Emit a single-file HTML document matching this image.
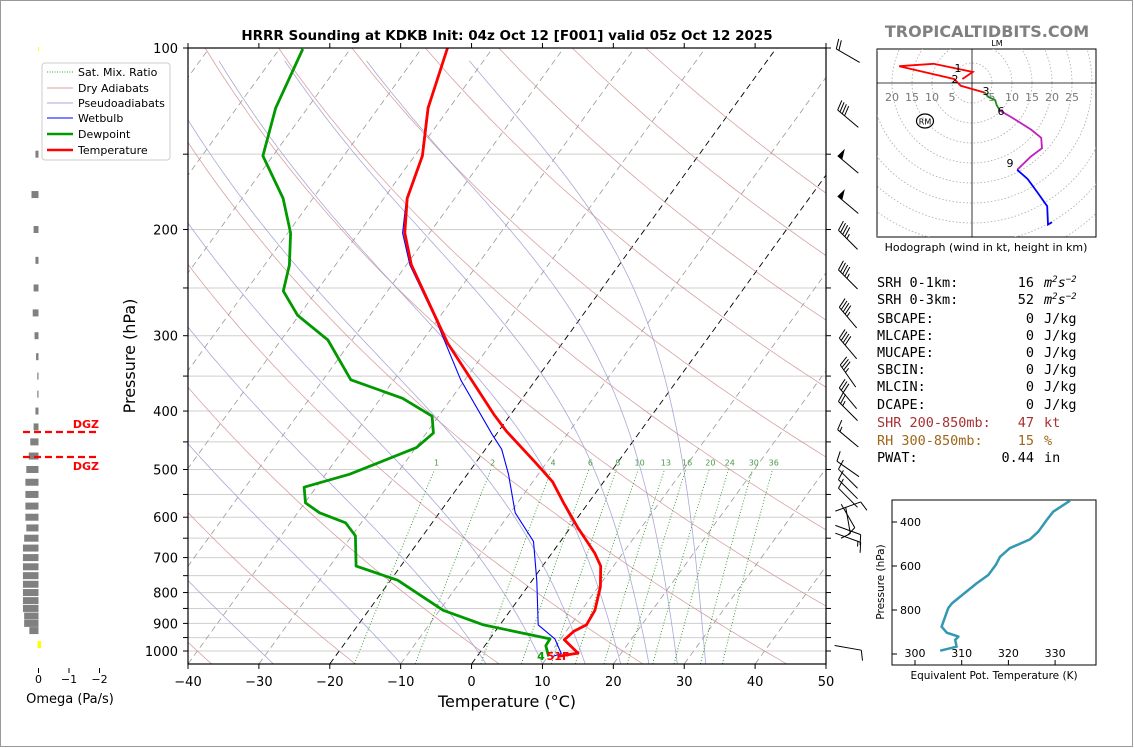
<!DOCTYPE html>
<html><head><meta charset="utf-8">
<style>
html,body{margin:0;padding:0;background:#fff;}
svg{display:block;font-family:"DejaVu Sans","Liberation Sans",sans-serif;}
</style></head>
<body>
<svg id="root" width="1134" height="748" viewBox="0 0 1134 748" xmlns="http://www.w3.org/2000/svg">
<rect x="0.5" y="0.5" width="1132" height="746" fill="#fff" stroke="#999"/>
<defs>
<clipPath id="skclip"><rect x="188" y="48" width="638" height="616"/></clipPath>
<clipPath id="hodoclip"><rect x="877" y="49" width="219" height="188"/></clipPath>
<clipPath id="thclip"><rect x="892" y="500" width="204" height="165"/></clipPath>
</defs>
<g id="bg" clip-path="url(#skclip)"></g>
<g id="prof" clip-path="url(#skclip)"></g>
<g id="axes"></g>
<g id="omega"></g>
<g id="barbs"></g>
<g id="hodo"></g>
<g id="theta"></g>

<text x="507" y="40" text-anchor="middle" font-size="13.5" font-weight="bold">HRRR Sounding at KDKB Init: 04z Oct 12 [F001] valid 05z Oct 12 2025</text>
<text x="987" y="37" text-anchor="middle" font-size="16" font-weight="bold" fill="#808080">TROPICALTIDBITS.COM</text>
<text x="507" y="707" text-anchor="middle" font-size="16">Temperature (°C)</text>
<text transform="translate(135,356) rotate(-90)" text-anchor="middle" font-size="16">Pressure (hPa)</text>
<text x="70" y="703" text-anchor="middle" font-size="13">Omega (Pa/s)</text>
<text x="541" y="660" text-anchor="middle" font-size="11" font-weight="bold" fill="#00a000">4</text>
<text x="558" y="660" text-anchor="middle" font-size="11" font-weight="bold" fill="#ff0000">51F</text>

<g>
<rect x="42" y="63" width="128" height="97" rx="3" fill="#fff" stroke="#ccc"/>
<line x1="47" y1="72" x2="73" y2="72" stroke="#3a3" stroke-dasharray="1,1.5"/>
<text x="78" y="76" font-size="11">Sat. Mix. Ratio</text>
<line x1="47" y1="88" x2="73" y2="88" stroke="#d9a0a0"/>
<text x="78" y="92" font-size="11">Dry Adiabats</text>
<line x1="47" y1="103" x2="73" y2="103" stroke="#a8a8d8"/>
<text x="78" y="107" font-size="11">Pseudoadiabats</text>
<line x1="47" y1="118" x2="73" y2="118" stroke="#00f"/>
<text x="78" y="122" font-size="11">Wetbulb</text>
<line x1="47" y1="134" x2="73" y2="134" stroke="#009900" stroke-width="2.5"/>
<text x="78" y="138" font-size="11">Dewpoint</text>
<line x1="47" y1="150" x2="73" y2="150" stroke="#f00" stroke-width="2.5"/>
<text x="78" y="154" font-size="11">Temperature</text>
</g>

<g font-family="'DejaVu Sans Mono','Liberation Mono',monospace" font-size="13.5">
<text x="877" y="287">SRH 0-1km:</text><text x="1034" y="287" text-anchor="end">16</text><text x="1044" y="287" font-style="italic">m<tspan dy="-5" font-size="9">2</tspan><tspan dy="5">s</tspan><tspan dy="-5" font-size="9">−2</tspan></text>
<text x="877" y="304">SRH 0-3km:</text><text x="1034" y="304" text-anchor="end">52</text><text x="1044" y="304" font-style="italic">m<tspan dy="-5" font-size="9">2</tspan><tspan dy="5">s</tspan><tspan dy="-5" font-size="9">−2</tspan></text>
<text x="877" y="323">SBCAPE:</text><text x="1034" y="323" text-anchor="end">0</text><text x="1044" y="323">J/kg</text>
<text x="877" y="340">MLCAPE:</text><text x="1034" y="340" text-anchor="end">0</text><text x="1044" y="340">J/kg</text>
<text x="877" y="357">MUCAPE:</text><text x="1034" y="357" text-anchor="end">0</text><text x="1044" y="357">J/kg</text>
<text x="877" y="374">SBCIN:</text><text x="1034" y="374" text-anchor="end">0</text><text x="1044" y="374">J/kg</text>
<text x="877" y="391">MLCIN:</text><text x="1034" y="391" text-anchor="end">0</text><text x="1044" y="391">J/kg</text>
<text x="877" y="409">DCAPE:</text><text x="1034" y="409" text-anchor="end">0</text><text x="1044" y="409">J/kg</text>
<text x="877" y="427" fill="#a83232">SHR 200-850mb:</text><text x="1034" y="427" text-anchor="end" fill="#a83232">47</text><text x="1044" y="427" fill="#a83232">kt</text>
<text x="877" y="445" fill="#a0661a">RH 300-850mb:</text><text x="1034" y="445" text-anchor="end" fill="#a0661a">15</text><text x="1044" y="445" fill="#a0661a">%</text>
<text x="877" y="462">PWAT:</text><text x="1034" y="462" text-anchor="end">0.44</text><text x="1044" y="462">in</text>
</g>
</svg>
<script>
// ---------- data ----------
const tempP  = [100,125.7,151,177.6,202.7,229,308.6,405,432,487.6,524,568,625,689,723,783,856,905,927,958,1008,1021];
const tempT  = [-66.4,-63,-58.9,-56.7,-53.5,-49.3,-36.2,-22.4,-18.9,-11.5,-7.2,-3.5,1.1,6.1,8.2,10.3,11.9,12.2,11.1,10.6,13.9,11.4];
const dewP   = [100.4,125.7,151,177.6,202.7,229,253,277.5,305,355,381,408,435,460,509,535,568,590,613,644,723,763,856,905,955,980,1021];
const dewT   = [-86.7,-84.5,-81.4,-74.2,-69.6,-66.5,-64.7,-60.2,-53.4,-46.1,-36.9,-30.9,-29,-29.9,-36.6,-41.7,-39.9,-36.9,-32.2,-29.5,-26.3,-19,-9.5,-2.3,8.5,8.6,10.1];
const wbP    = [100,125.7,151,177.6,202.7,229,280,355,438,463,509,590,658,765,905,955,1010,1021];
const wbT    = [-66.4,-63.1,-59,-56.8,-53.8,-49.5,-40.6,-30.6,-20.5,-17.7,-14.2,-9.3,-3.8,0.7,5.4,9.2,11.6,10.7];
const omegaP = [150,175,200,225,250,275,300,325,350,375,400,425,450,475,500,525,550,575,600,625,650,675,700,725,750,775,800,825,850,875,900,925];
const omegaV = [0.1,0.23,0.16,0.1,0.16,0.19,0.13,0.08,0.04,0.04,0.1,0.16,0.27,0.32,0.4,0.43,0.43,0.43,0.43,0.4,0.47,0.51,0.51,0.51,0.51,0.51,0.51,0.51,0.51,0.47,0.47,0.3];
const windP   = [103,131,156,182,208,242,280,315,350,381,400,444,499,518,539,557,576,597,607,630,649,988];
const windDir = [300,310,310,310,315,315,320,320,325,320,315,310,305,315,315,315,70,150,170,110,110,100];
const windSpd = [20,40,50,50,45,45,45,40,35,30,25,15,10,10,10,10,10,10,10,10,15,10];
const hodoU = [[-2.4,0.2,-9.6,-18.2,-4.5,-2.8,3.2],[3.2,4.1,5.8,6.2,7.0],[7.0,9.6,14.7,17.3,17.5,14.7,11.3],[11.3,13.9,16.4,18.8,19,20]];
const hodoV = [[1.0,2.75,4.8,4.2,1.0,-0.7,-2.4],[-2.4,-3.5,-4.3,-5.6,-6.9],[-6.9,-8.4,-11.6,-13.7,-16.3,-18.4,-21.7],[-21.7,-24,-27.4,-30.8,-35.4,-34.8]];
const hodoColors = ['#ff0000','#228b22','#c020c0','#0000ff'];
const thetaE  = [333.2,329.6,328.2,326.4,324.6,320.3,318.2,317.3,315.7,313.2,307.9,307.1,305.7,306.8,309.3,308.6,308.9,305.4];
const thetaEP = [303,353,391,444,479,519,558,595,641,679,770,792,876,903,921,936,967,985];
const xTicks = [-40,-30,-20,-10,0,10,20,30,40,50];
const pLabels = [100,200,300,400,500,600,700,800,900,1000];
const mixRatios = [1,2,4,6,8,10,13,16,20,24,30,36];
const dryThetas = [-40,-20,0,20,40,60,80,100,120,140,160,180];
const moistStarts = [-28,-10,2,10,16,21,25,29,33];

// ---------- helpers ----------
const NS='http://www.w3.org/2000/svg';
function mk(tag,attrs,parent){const e=document.createElementNS(NS,tag);for(const k in attrs)e.setAttribute(k,attrs[k]);parent.appendChild(e);return e;}
function yP(p){return 48+(Math.log10(p)-2)*603;}
function xT(T,p){return 188+(T+40)*7.0889+(664-yP(p))*0.725;}
const bg=document.getElementById('bg'),prof=document.getElementById('prof'),axes=document.getElementById('axes');
function pathFrom(pts){return pts.map((q,i)=>(i?'L':'M')+q[0].toFixed(1)+','+q[1].toFixed(1)).join('');}

for(let p=100;p<=1000;p+=50){const y=yP(p);
  const g=mk('line',{x1:188,y1:y,x2:826,y2:y,stroke:'#cfcfcf','stroke-width':1},bg);
  
  }
for(let T=-120;T<=50;T+=10){const blk=(T===0||T===-20);
  const l=mk('line',{x1:xT(T,1050),y1:yP(1050),x2:xT(T,100),y2:yP(100),stroke:blk?'#000':'#999','stroke-width':blk?0.9:0.8,'stroke-dasharray':'6,4'},bg);
  
  }
dryThetas.forEach(th=>{const pts=[];for(let p=1050;p>=100;p-=10){const T=(th+273.15)*Math.pow(p/1000,0.2857)-273.15;pts.push([xT(T,p),yP(p)]);}
  const l=mk('path',{d:pathFrom(pts),fill:'none',stroke:'#d08a8a','stroke-width':0.8,opacity:0.8},bg);
  
  });
function es(T){return 6.112*Math.exp(17.67*T/(T+243.5));}
function moistGrad(Tk,p){const Rd=287.04,Cp=1005.7,Lv=2.501e6,eps=0.622;const rs=eps*es(Tk-273.15)/(p-es(Tk-273.15));
  return (Rd*Tk+Lv*rs)/(Cp+Lv*Lv*rs*eps/(Rd*Tk*Tk))/p;}
moistStarts.forEach(T0=>{const pts=[];let T2=T0+273.15;
  for(let p=1050;p>100;p-=5){pts.push([xT(T2-273.15,p),yP(p)]);T2-=moistGrad(T2,p)*5;}
  const l=mk('path',{d:pathFrom(pts),fill:'none',stroke:'#9a9ad0','stroke-width':0.8,opacity:0.85},bg);
  
  });
function tdFromW(w,p){const e=w*p/(622+w);const a=Math.log(e/6.112);return 243.5*a/(17.67-a);}
mixRatios.forEach(w=>{const pts=[];for(let p=1050;p>=500;p-=10)pts.push([xT(tdFromW(w,p),p),yP(p)]);
  const l=mk('path',{d:pathFrom(pts),fill:'none',stroke:'#2a9a2a','stroke-width':0.9,'stroke-dasharray':'1,2'},bg);
  
  
  const t=mk('text',{x:xT(tdFromW(w,492),492),y:yP(492),'text-anchor':'middle','font-size':8,fill:'#4a9a4a'},bg);
  t.textContent=w;
  
  });

function profile(P,T,color,w,name){const pts=P.map((p,i)=>[xT(T[i],p),yP(p)]);
  const l=mk('path',{d:pathFrom(pts),fill:'none',stroke:color,'stroke-width':w,'stroke-linejoin':'round'},prof);
  
  }
profile(wbP,wbT,'#0000ff',1.1,'wetbulb-line');
profile(dewP,dewT,'#009900',2.8,'dewpoint-line');
profile(tempP,tempT,'#ff0000',2.8,'temperature-line');

mk('rect',{x:188,y:48,width:638,height:616,fill:'none',stroke:'#000','stroke-width':1.2},axes);
xTicks.forEach(T=>{const x=188+(T+40)*7.0889;
  mk('line',{x1:x,y1:664,x2:x,y2:669,stroke:'#000'},axes);
  mk('line',{x1:x,y1:48,x2:x,y2:43,stroke:'#000'},axes);
  const t=mk('text',{x:x,y:686,'text-anchor':'middle','font-size':13},axes);
  t.textContent=(T<0?'\u2212'+(-T):T);
  
  });
for(let p=100;p<=1000;p+=50){const y=yP(p);
  mk('line',{x1:188,y1:y,x2:183,y2:y,stroke:'#000'},axes);
  mk('line',{x1:826,y1:y,x2:831,y2:y,stroke:'#000'},axes);}
pLabels.forEach(p=>{const t=mk('text',{x:178,y:yP(p)+5,'text-anchor':'end','font-size':13},axes);
  t.textContent=p;
  
  });

const om=document.getElementById('omega');
function xO(v){return 38.5-v*30.5;}
omegaP.forEach((p,i)=>{const x=xO(omegaV[i]);
  const r=mk('rect',{x:x,y:yP(p)-3.5,width:38.5-x,height:7,fill:'#808080'},om);
  
  });
mk('rect',{x:37.5,y:641,width:3.5,height:7,fill:'#ffff00'},om);
mk('rect',{x:38,y:47,width:1,height:4,fill:'#ffff00'},om);
[0,-1,-2].forEach(v=>{const x=xO(v);
  mk('line',{x1:x,y1:668,x2:x,y2:673,stroke:'#000'},om);
  const t=mk('text',{x:x,y:683,'text-anchor':'middle','font-size':11},om);
  t.textContent=v===0?'0':'\u2212'+(-v);
  
  });
[432,457].forEach((y,i)=>{const l=mk('line',{x1:23,y1:y,x2:99,y2:y,stroke:'#ff0000','stroke-width':2.2,'stroke-dasharray':'7,4'},om);
  
  
  const t=mk('text',{x:99,y:i?470:428,'text-anchor':'end','font-size':11,'font-weight':'bold',fill:'#ff0000'},om);
  t.textContent='DGZ';
  
  });

const bb=document.getElementById('barbs');
function barb(cx,cy,dir,spd){const r=dir*Math.PI/180;const d=[Math.sin(r),-Math.cos(r)];const pp=[-d[1],d[0]];const L=27;
  const base=[cx-d[0]*L/2,cy-d[1]*L/2],tip=[cx+d[0]*L/2,cy+d[1]*L/2];
  const g=mk('g',{},bb);
  
  
  mk('line',{x1:base[0],y1:base[1],x2:tip[0],y2:tip[1],stroke:'#000','stroke-width':1},g);
  let s=Math.round(spd/5)*5,pos=0;
  while(s>=50){const a=[tip[0]-d[0]*pos,tip[1]-d[1]*pos],b=[a[0]-d[0]*6,a[1]-d[1]*6],c=[a[0]+pp[0]*10-d[0]*1,a[1]+pp[1]*10-d[1]*1];
    mk('polygon',{points:a.join(',')+' '+c.join(',')+' '+b.join(','),fill:'#000'},g);pos+=7;s-=50;}
  while(s>=10){const a=[tip[0]-d[0]*pos,tip[1]-d[1]*pos];mk('line',{x1:a[0],y1:a[1],x2:a[0]+pp[0]*10+d[0]*3,y2:a[1]+pp[1]*10+d[1]*3,stroke:'#000','stroke-width':1},g);pos+=3;s-=10;}
  if(s>=5){if(pos===0)pos=3;const a=[tip[0]-d[0]*pos,tip[1]-d[1]*pos];mk('line',{x1:a[0],y1:a[1],x2:a[0]+pp[0]*5+d[0]*1.5,y2:a[1]+pp[1]*5+d[1]*1.5,stroke:'#000','stroke-width':1},g);}}
windP.forEach((p,i)=>barb(848,yP(p),windDir[i],windSpd[i]));

const hd=document.getElementById('hodo');
const HX=972,HY=83,HS=4;
mk('rect',{x:877,y:49,width:219,height:188,fill:'#fff',stroke:'#000','stroke-width':1},hd);
const hc=mk('g',{'clip-path':'url(#hodoclip)'},hd);
for(let k=5;k<=60;k+=5){const c=mk('circle',{cx:HX,cy:HY,r:k*HS,fill:'none',stroke:'#aaa','stroke-width':0.8,'stroke-dasharray':'1.5,2'},hc);
  
  }
mk('line',{x1:HX,y1:49,x2:HX,y2:237,stroke:'#000','stroke-width':0.8},hc);
mk('line',{x1:877,y1:HY,x2:1096,y2:HY,stroke:'#000','stroke-width':0.8},hc);
[5,10,15,20,25].forEach(k=>{[[-1,'hodo-ring-label-left'],[1,'hodo-ring-label-right']].forEach(([s,n])=>{if(s<0&&k>20)return;
  const t=mk('text',{x:HX+s*k*HS,y:HY+18,'text-anchor':'middle','font-size':11,fill:'#777'},hc);
  t.textContent=k;
  
  });});
hodoU.forEach((us,j)=>{const pts=us.map((u,i)=>[HX+u*HS,HY-hodoV[j][i]*HS]);
  const l=mk('path',{d:pathFrom(pts),fill:'none',stroke:hodoColors[j],'stroke-width':1.8},hc);
  
  });
[['1',958,72],['2',955,83],['3',986,95],['6',1001,115],['9',1010,167]].forEach(a=>{const t=mk('text',{x:a[1],y:a[2],'text-anchor':'middle','font-size':11},hc);
  t.textContent=a[0];
  
  });
mk('ellipse',{cx:925,cy:121,rx:8.5,ry:7,fill:'none',stroke:'#000','stroke-width':1.2},hc);
const rm=mk('text',{x:925,y:124.5,'text-anchor':'middle','font-size':8},hc);rm.textContent='RM';


const lm=mk('text',{x:997,y:46,'text-anchor':'middle','font-size':8},hd);lm.textContent='LM';


const hcap=mk('text',{x:986,y:251,'text-anchor':'middle','font-size':11},hd);hcap.textContent='Hodograph (wind in kt, height in km)';



const th=document.getElementById('theta');
function xTh(v){return 915+(v-300)*4.67;}
function yTh(p){return 500+(p-300)*0.22;}
mk('rect',{x:892,y:500,width:204,height:165,fill:'#fff',stroke:'#000','stroke-width':1},th);
const tc=mk('g',{'clip-path':'url(#thclip)'},th);
const tl=mk('path',{d:pathFrom(thetaE.map((v,i)=>[xTh(v),yTh(thetaEP[i])])),fill:'none',stroke:'#3399b0','stroke-width':2.5,'stroke-linejoin':'round'},tc);


[300,310,320,330].forEach(v=>{mk('line',{x1:xTh(v),y1:665,x2:xTh(v),y2:660,stroke:'#000'},th);
  const t=mk('text',{x:xTh(v),y:657,'text-anchor':'middle','font-size':11},th);t.textContent=v;
  
  });
[400,600,800,1000].forEach(p=>{mk('line',{x1:892,y1:yTh(p),x2:897,y2:yTh(p),stroke:'#000'},th);
  if(p<1000){const t=mk('text',{x:900,y:yTh(p)+4,'font-size':11},th);t.textContent=p;
  
  }});
const tx=mk('text',{x:994,y:679,'text-anchor':'middle','font-size':10.5},th);tx.textContent='Equivalent Pot. Temperature (K)';


const ty=mk('text',{transform:'translate(884,582) rotate(-90)','text-anchor':'middle','font-size':10.5},th);ty.textContent='Pressure (hPa)';


</script>
</body></html>
